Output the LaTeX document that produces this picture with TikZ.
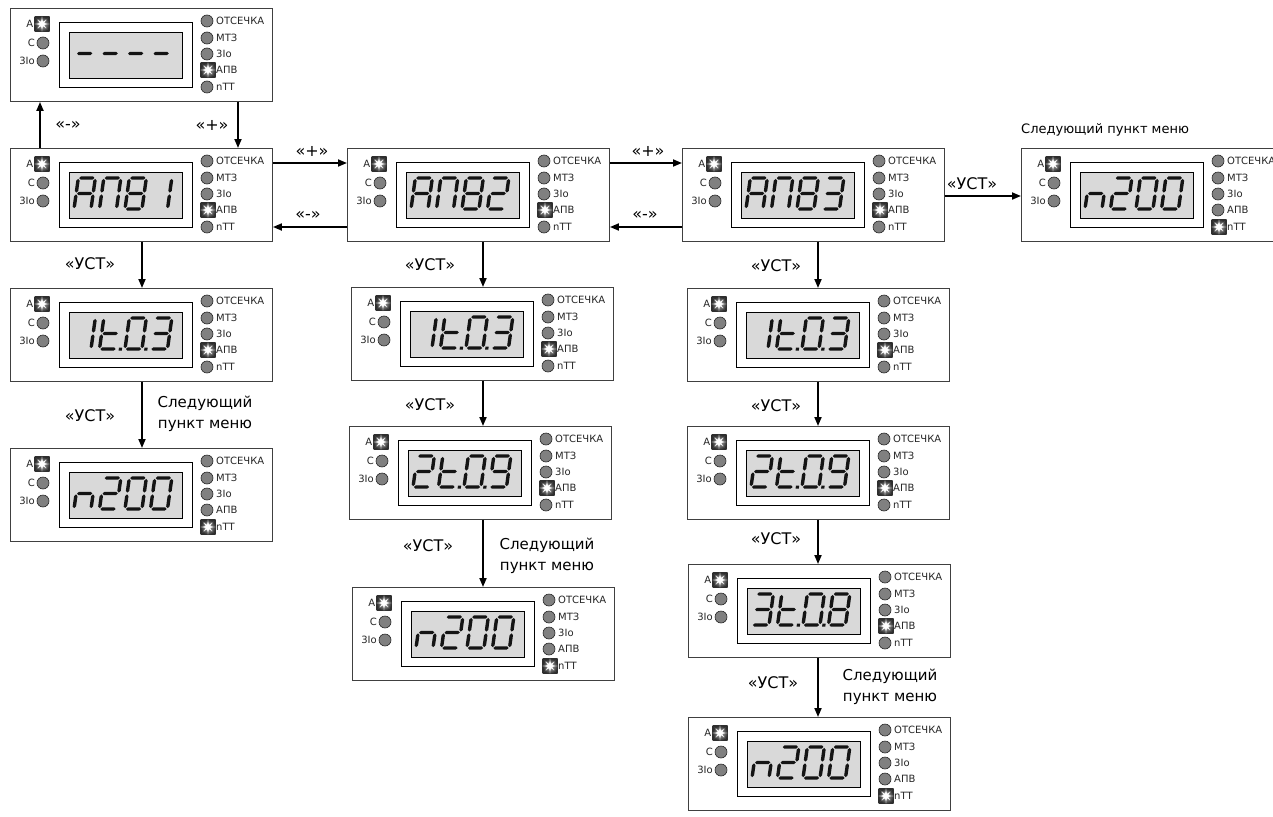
\documentclass[tikz,border=0pt]{standalone}
\usepackage{fontspec}
\setmainfont{DejaVu Sans}
\usetikzlibrary{arrows.meta}
\tikzset{
 panelbox/.style={draw=black!75, line width=0.9pt, fill=white, minimum width=262pt, minimum height=93pt, anchor=north west, inner sep=0pt},
 dispout/.style={draw=black, line width=0.9pt, fill=white},
 dispin/.style={draw=black, line width=0.6pt, fill=black!15},
 ledlbl/.style={font=\fontsize{10}{12}\selectfont, inner sep=1pt, text=black!85},
 ledc/.style={fill=black!50, draw=black!85, line width=0.6pt},
 segfill/.style={fill=black!92},
 arr/.style={line width=1.8pt, -{Triangle[length=9pt,width=7pt]}},
 albl/.style={font=\fontsize{16}{21}\selectfont, inner sep=1pt, align=center},
 nlbl/.style={font=\fontsize{15}{21}\selectfont, inner sep=1pt, align=center},
 tlbl/.style={font=\fontsize{13}{16}\selectfont, inner sep=1pt},
}
% seven-segment pieces (local cell: width 17, height 31, y up)
\newcommand\HSeg[3]{\fill[segfill] (#1,#3) -- (#1+1.7,#3+1.7) -- (#2-1.7,#3+1.7) -- (#2,#3) -- (#2-1.7,#3-1.7) -- (#1+1.7,#3-1.7) -- cycle;}
\newcommand\VSeg[3]{\fill[segfill] (#1,#2) -- (#1+1.7,#2+1.7) -- (#1+1.7,#3-1.7) -- (#1,#3) -- (#1-1.7,#3-1.7) -- (#1-1.7,#2+1.7) -- cycle;}
\newcommand\SegA{\HSeg{0.9}{16.1}{31}}
\newcommand\SegB{\VSeg{17}{16.4}{30.1}}
\newcommand\SegC{\VSeg{17}{0.9}{14.6}}
\newcommand\SegD{\HSeg{0.9}{16.1}{0}}
\newcommand\SegE{\VSeg{0}{0.9}{14.6}}
\newcommand\SegF{\VSeg{0}{16.4}{30.1}}
\newcommand\SegG{\HSeg{0.9}{16.1}{15.5}}
\newcommand\SegP{\fill[segfill] (19.3,-1.7) rectangle (22.5,1.5);}
\newcommand\ChA{\SegA\SegB\SegC\SegE\SegF\SegG}
\newcommand\ChP{\SegA\SegB\SegC\SegE\SegF}
\newcommand\ChV{\SegA\SegB\SegC\SegD\SegE\SegF\SegG}
\newcommand\ChOne{\SegB\SegC}
\newcommand\ChTwo{\SegA\SegB\SegG\SegE\SegD}
\newcommand\ChThree{\SegA\SegB\SegG\SegC\SegD}
\newcommand\ChT{\SegD\SegE\SegF\SegG}
\newcommand\ChZero{\SegA\SegB\SegC\SegD\SegE\SegF}
\newcommand\ChNine{\SegA\SegB\SegC\SegD\SegF\SegG}
\newcommand\ChEight{\SegA\SegB\SegC\SegD\SegE\SegF\SegG}
\newcommand\ChN{\SegC\SegE\SegG}
\newcommand\ChDash{\SegG}
\newcommand\Dig[2]{\begin{scope}[shift={({64+25.5*#1},61)}, y=1pt, xslant=0.14] #2 \end{scope}}
% LEDs
\newcommand\StarLed[2]{%
 \shade[inner color=black!25, outer color=black!82] (#1-7.5,#2-7.5) rectangle (#1+7.5,#2+7.5);
 \filldraw[fill=white, draw=black!65, line width=0.35pt] (#1,#2) +(90:7.4)
   \foreach \k in {1,...,15}{ -- +({90+22.5*\k}:{mod(\k,2)==1 ? 3.1 : 7.4}) } -- cycle;}
\newcommand\Panel[5]{%
 \node[panelbox] (#1) at (#2,#3) {};
 \begin{scope}[shift={(#2,#3)}]
  \draw[dispout] (49,14) rectangle (182,79);
  \draw[dispin] (59,24) rectangle (172,70);
  #4
  \StarLed{32}{16}
  \draw[ledc] (33,35) circle (6);
  \draw[ledc] (33,53) circle (6);
  \node[ledlbl, anchor=east] (#1-a) at (24.5,16) {A};
  \node[ledlbl, anchor=east] (#1-c) at (26,35) {C};
  \node[ledlbl, anchor=east] (#1-i) at (26,53) {3Io};
  \draw[ledc] (197,13) circle (6);
  \draw[ledc] (197,30) circle (6);
  \draw[ledc] (197,46) circle (6);
  \ifx n#5 \draw[ledc] (197,62) circle (6); \StarLed{198}{79}%
  \else \StarLed{198}{62} \draw[ledc] (197,79) circle (6); \fi
  \node[ledlbl, anchor=west] (#1-otc) at (205,13) {ОТСЕЧКА};
  \node[ledlbl, anchor=west] (#1-mtz) at (205,30) {МТЗ};
  \node[ledlbl, anchor=west] (#1-io) at (205,46) {3Io};
  \node[ledlbl, anchor=west] (#1-apv) at (205,62) {АПВ};
  \node[ledlbl, anchor=west] (#1-ntt) at (205,79) {nТТ};
 \end{scope}}
\newcommand\DApvOne{\Dig{0}{\ChA}\Dig{1}{\ChP}\Dig{2}{\ChV}\Dig{3}{\ChOne}}
\newcommand\DApvTwo{\Dig{0}{\ChA}\Dig{1}{\ChP}\Dig{2}{\ChV}\Dig{3}{\ChTwo}}
\newcommand\DApvThree{\Dig{0}{\ChA}\Dig{1}{\ChP}\Dig{2}{\ChV}\Dig{3}{\ChThree}}
\newcommand\DNtwo{\Dig{0}{\ChN}\Dig{1}{\ChTwo}\Dig{2}{\ChZero}\Dig{3}{\ChZero}}
\newcommand\DOne{\Dig{0}{\ChOne}\Dig{1}{\ChT\SegP}\Dig{2}{\ChZero\SegP}\Dig{3}{\ChThree}}
\newcommand\DTwo{\Dig{0}{\ChTwo}\Dig{1}{\ChT\SegP}\Dig{2}{\ChZero\SegP}\Dig{3}{\ChNine}}
\newcommand\DThree{\Dig{0}{\ChThree}\Dig{1}{\ChT\SegP}\Dig{2}{\ChZero\SegP}\Dig{3}{\ChEight}}
\newcommand\DDash{\Dig{0}{\ChDash}\Dig{1}{\ChDash}\Dig{2}{\ChDash}\Dig{3}{\ChDash}}
\begin{document}
\begin{tikzpicture}[x=1pt, y=-1pt]
\useasboundingbox (0,0) rectangle (1273,816);
\fill[white] (0,0) rectangle (1273,816);
\clip (0,0) rectangle (1273,816);
% panels
\Panel{p0}{10}{8}{\DDash}{a}
\Panel{p1}{10}{148}{\DApvOne}{a}
\Panel{p2}{347}{148}{\DApvTwo}{a}
\Panel{p3}{682}{148}{\DApvThree}{a}
\Panel{p4}{1021}{148}{\DNtwo}{n}
\Panel{p1a}{10}{288}{\DOne}{a}
\Panel{p1b}{10}{448}{\DNtwo}{n}
\Panel{p2a}{351}{287}{\DOne}{a}
\Panel{p2b}{349}{426}{\DTwo}{a}
\Panel{p2c}{352}{587}{\DNtwo}{n}
\Panel{p3a}{687}{288}{\DOne}{a}
\Panel{p3b}{687}{426}{\DTwo}{a}
\Panel{p3c}{688}{564}{\DThree}{a}
\Panel{p3d}{688}{717}{\DNtwo}{n}
% guide coordinates
\coordinate (u1) at (40,0);
\coordinate (d1) at (238,0);
\coordinate (c1) at (142,0);
\coordinate (c2) at (483,0);
\coordinate (c3) at (818,0);
\coordinate (r1) at (0,163);
\coordinate (r2) at (0,227);
\coordinate (r3) at (0,196);
% connectors
\draw[arr] (p1.north -| u1) -- (p0.south -| u1);
\draw[arr] (p0.south -| d1) -- (p1.north -| d1);
\draw[arr] (p1.east |- r1) -- (p2.west |- r1);
\draw[arr] (p2.west |- r2) -- (p1.east |- r2);
\draw[arr] (p2.east |- r1) -- (p3.west |- r1);
\draw[arr] (p3.west |- r2) -- (p2.east |- r2);
\draw[arr] (p3.east |- r3) -- (p4.west |- r3);
\draw[arr] (p1.south -| c1) -- (p1a.north -| c1);
\draw[arr] (p1a.south -| c1) -- (p1b.north -| c1);
\draw[arr] (p2.south -| c2) -- (p2a.north -| c2);
\draw[arr] (p2a.south -| c2) -- (p2b.north -| c2);
\draw[arr] (p2b.south -| c2) -- (p2c.north -| c2);
\draw[arr] (p3.south -| c3) -- (p3a.north -| c3);
\draw[arr] (p3a.south -| c3) -- (p3b.north -| c3);
\draw[arr] (p3b.south -| c3) -- (p3c.north -| c3);
\draw[arr] (p3c.south -| c3) -- (p3d.north -| c3);
% labels
\node[albl] (l01) at (68,125) {«-»};
\node[albl] (l02) at (212,125) {«+»};
\node[albl] (l12a) at (312,151) {«+»};
\node[albl] (l12b) at (308,215) {«-»};
\node[albl] (l23a) at (648,151) {«+»};
\node[albl] (l23b) at (645,215) {«-»};
\node[albl] (l34) at (972,184) {«УСТ»};
\node[tlbl, anchor=west] (nx4) at (1020,130) {Следующий пункт меню};
\node[albl] (k1a) at (90,264) {«УСТ»};
\node[albl] (k1b) at (90,416) {«УСТ»};
\node[nlbl] (nx1) at (205,414) {Следующий\\пункт меню};
\node[albl] (k2a) at (430,265) {«УСТ»};
\node[albl] (k2b) at (430,405) {«УСТ»};
\node[albl] (k2c) at (428,546) {«УСТ»};
\node[nlbl] (nx2) at (547,556) {Следующий\\пункт меню};
\node[albl] (k3a) at (776,266) {«УСТ»};
\node[albl] (k3b) at (776,406) {«УСТ»};
\node[albl] (k3c) at (776,539) {«УСТ»};
\node[albl] (k3d) at (773,683) {«УСТ»};
\node[nlbl] (nx3) at (890,687) {Следующий\\пункт меню};
\end{tikzpicture}
\end{document}
